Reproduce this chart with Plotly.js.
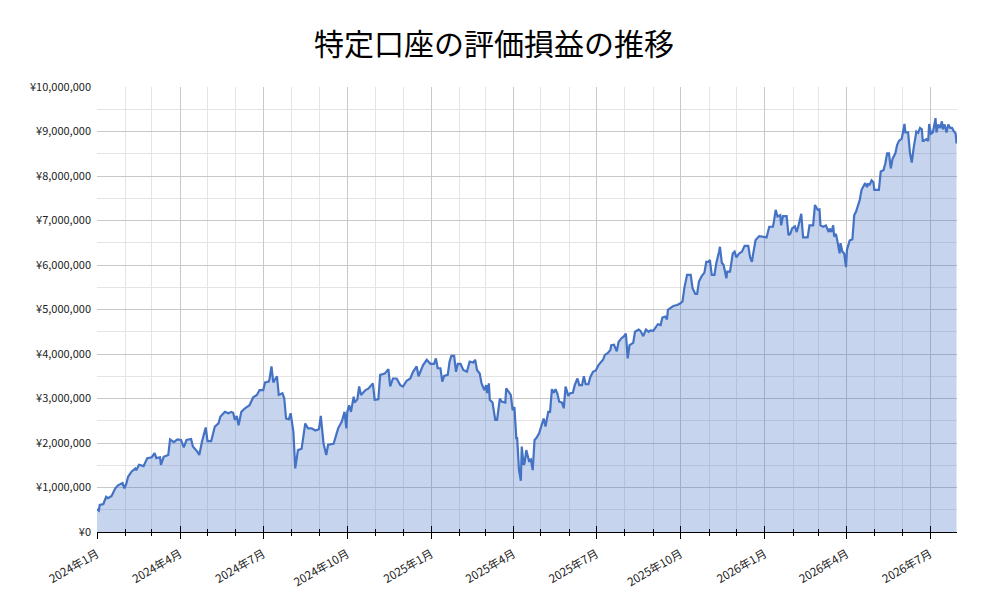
<!DOCTYPE html>
<html>
<head>
<meta charset="utf-8">
<script src="https://cdn.plot.ly/plotly-3.0.1.min.js"></script>
<style>html,body{margin:0;padding:0;background:#fff;}#chart{width:988px;height:611px;}</style>
</head>
<body>
<div id="chart"></div>
<script>
const chartTitle = "特定口座の評価損益の推移";

const dates = [
"2024-01-01","2024-01-03","2024-01-04","2024-01-08","2024-01-11","2024-01-13","2024-01-17","2024-01-21","2024-01-24","2024-01-29",
"2024-01-31","2024-02-02","2024-02-04","2024-02-08","2024-02-12","2024-02-13","2024-02-16","2024-02-21","2024-02-25","2024-03-01",
"2024-03-04","2024-03-06","2024-03-10","2024-03-11","2024-03-14","2024-03-19","2024-03-21","2024-03-25","2024-03-29","2024-04-02",
"2024-04-05","2024-04-08","2024-04-13","2024-04-15","2024-04-20","2024-04-22","2024-04-25","2024-04-29","2024-05-01","2024-05-05",
"2024-05-09","2024-05-13","2024-05-15","2024-05-20","2024-05-24","2024-05-27","2024-05-29","2024-05-31","2024-06-02","2024-06-04",
"2024-06-07","2024-06-11","2024-06-16","2024-06-20","2024-06-24","2024-06-27","2024-07-01","2024-07-03","2024-07-07","2024-07-08",
"2024-07-10","2024-07-12","2024-07-16","2024-07-18","2024-07-22","2024-07-24","2024-07-26","2024-07-29","2024-07-31","2024-08-01",
"2024-08-03","2024-08-05","2024-08-08","2024-08-12","2024-08-16","2024-08-19","2024-08-23","2024-08-27","2024-08-31","2024-09-02",
"2024-09-05","2024-09-08","2024-09-10","2024-09-16","2024-09-21","2024-09-25","2024-09-28","2024-09-30","2024-10-01","2024-10-03",
"2024-10-05","2024-10-08","2024-10-09","2024-10-12","2024-10-14","2024-10-16","2024-10-19","2024-10-21","2024-10-24","2024-10-27",
"2024-10-29","2024-10-31","2024-11-04","2024-11-06","2024-11-11","2024-11-15","2024-11-17","2024-11-20","2024-11-24","2024-11-28",
"2024-12-01","2024-12-05","2024-12-09","2024-12-12","2024-12-16","2024-12-18","2024-12-20","2024-12-23","2024-12-27","2024-12-31",
"2025-01-04","2025-01-06","2025-01-08","2025-01-11","2025-01-13","2025-01-15","2025-01-19","2025-01-21","2025-01-23","2025-01-26",
"2025-01-28","2025-01-30","2025-02-02","2025-02-05","2025-02-09","2025-02-12","2025-02-16","2025-02-18","2025-02-20","2025-02-23",
"2025-02-25","2025-02-28","2025-03-02","2025-03-03","2025-03-05","2025-03-06","2025-03-09","2025-03-12","2025-03-14","2025-03-17",
"2025-03-19","2025-03-23","2025-03-24","2025-03-27","2025-03-29","2025-03-31","2025-04-02","2025-04-04","2025-04-05","2025-04-07",
"2025-04-09","2025-04-10","2025-04-12","2025-04-13","2025-04-15","2025-04-16","2025-04-18","2025-04-20","2025-04-22","2025-04-24",
"2025-04-26","2025-04-29","2025-05-01","2025-05-04","2025-05-06","2025-05-09","2025-05-11","2025-05-13","2025-05-15","2025-05-17",
"2025-05-19","2025-05-21","2025-05-24","2025-05-26","2025-05-28","2025-05-31","2025-06-02","2025-06-05","2025-06-07","2025-06-10",
"2025-06-12","2025-06-15","2025-06-17","2025-06-19","2025-06-22","2025-06-24","2025-06-27","2025-06-30","2025-07-03","2025-07-05",
"2025-07-08","2025-07-10","2025-07-13","2025-07-16","2025-07-17","2025-07-20","2025-07-23","2025-07-25","2025-07-28","2025-07-31",
"2025-08-02","2025-08-04","2025-08-06","2025-08-10","2025-08-12","2025-08-16","2025-08-18","2025-08-21","2025-08-24","2025-08-27",
"2025-08-29","2025-09-01","2025-09-04","2025-09-06","2025-09-09","2025-09-11","2025-09-14","2025-09-16","2025-09-17","2025-09-20",
"2025-09-23","2025-09-27","2025-09-30","2025-10-03","2025-10-05","2025-10-08","2025-10-12","2025-10-14","2025-10-17","2025-10-19",
"2025-10-21","2025-10-24","2025-10-27","2025-10-29","2025-10-31","2025-11-02","2025-11-04","2025-11-07","2025-11-09","2025-11-12",
"2025-11-13","2025-11-15","2025-11-17","2025-11-20","2025-11-21","2025-11-24","2025-11-27","2025-11-29","2025-12-01","2025-12-04",
"2025-12-07","2025-12-10","2025-12-14","2025-12-16","2025-12-18","2025-12-19","2025-12-22","2025-12-26","2025-12-30","2026-01-03",
"2026-01-06","2026-01-10","2026-01-11","2026-01-13","2026-01-15","2026-01-18","2026-01-19","2026-01-21","2026-01-25","2026-01-27",
"2026-01-29","2026-01-31","2026-02-03","2026-02-05","2026-02-07","2026-02-09","2026-02-10","2026-02-12","2026-02-17","2026-02-19",
"2026-02-23","2026-02-25","2026-02-28","2026-03-02","2026-03-03","2026-03-06","2026-03-09","2026-03-12","2026-03-13","2026-03-15",
"2026-03-17","2026-03-18","2026-03-20","2026-03-22","2026-03-24","2026-03-25","2026-03-27","2026-03-29","2026-03-31","2026-04-01",
"2026-04-04","2026-04-07","2026-04-09","2026-04-11","2026-04-13","2026-04-15","2026-04-17","2026-04-19","2026-04-21","2026-04-23",
"2026-04-24","2026-04-26","2026-04-28","2026-04-30","2026-05-01","2026-05-04","2026-05-06","2026-05-08","2026-05-11","2026-05-13",
"2026-05-15","2026-05-17","2026-05-19","2026-05-21","2026-05-24","2026-05-26","2026-05-28","2026-05-31","2026-06-02","2026-06-03",
"2026-06-04","2026-06-07","2026-06-09","2026-06-11","2026-06-13","2026-06-16","2026-06-18","2026-06-20","2026-06-22","2026-06-23",
"2026-06-24","2026-06-27","2026-06-29","2026-06-30","2026-07-02","2026-07-04","2026-07-05","2026-07-07","2026-07-08","2026-07-10",
"2026-07-12","2026-07-14","2026-07-15","2026-07-17","2026-07-19","2026-07-21","2026-07-23","2026-07-25","2026-07-27","2026-07-29",
"2026-07-30"
];

const valuesYen = [
510000,480000,610000,630000,790000,760000,810000,980000,1050000,1100000,
980000,1080000,1240000,1360000,1430000,1390000,1510000,1480000,1660000,1680000,
1770000,1660000,1680000,1510000,1690000,1730000,2080000,2020000,2080000,2070000,
1900000,2070000,2090000,1920000,1800000,1730000,2040000,2350000,2040000,2040000,
2370000,2440000,2590000,2700000,2670000,2700000,2680000,2520000,2610000,2400000,
2700000,2780000,2850000,3030000,3080000,3190000,3190000,3360000,3380000,3450000,
3720000,3360000,3500000,3080000,3120000,3000000,2550000,2530000,2670000,2520000,
2250000,1430000,1840000,1870000,2440000,2330000,2330000,2280000,2310000,2610000,
1990000,1730000,1960000,1980000,2330000,2480000,2700000,2330000,2700000,2850000,
2700000,3040000,2910000,2980000,3270000,3080000,3150000,3190000,3220000,3300000,
3340000,2970000,2980000,3530000,3560000,3660000,3270000,3450000,3450000,3300000,
3270000,3400000,3450000,3600000,3720000,3500000,3600000,3750000,3870000,3780000,
3780000,3900000,3680000,3680000,3380000,3510000,3530000,3830000,3960000,3960000,
3600000,3780000,3780000,3640000,3600000,3830000,3810000,3870000,3640000,3560000,
3340000,3190000,3300000,3120000,3340000,2970000,2910000,2520000,2520000,3000000,
2930000,2910000,3230000,3120000,3080000,2740000,2810000,2110000,2110000,1390000,
1150000,1920000,1510000,1540000,1840000,1750000,1600000,1630000,1390000,2070000,
2110000,2220000,2370000,2550000,2370000,2700000,2700000,3210000,3130000,3210000,
3110000,2930000,2910000,2780000,3270000,3060000,3120000,3130000,3300000,3450000,
3300000,3300000,3500000,3320000,3320000,3480000,3600000,3630000,3750000,3800000,
3870000,3980000,4020000,4090000,4200000,4210000,4060000,4270000,4350000,4400000,
4460000,3900000,4200000,4250000,4500000,4550000,4520000,4400000,4550000,4500000,
4530000,4520000,4630000,4670000,4650000,4820000,4840000,4780000,4990000,5030000,
5080000,5100000,5130000,5180000,5480000,5780000,5780000,5480000,5350000,5350000,
5630000,5750000,5830000,6070000,6070000,6110000,5780000,5780000,6040000,6300000,
6410000,6050000,6000000,5700000,5850000,5850000,6260000,6300000,6170000,6260000,
6300000,6430000,6430000,6170000,6070000,6210000,6560000,6650000,6630000,6620000,
6860000,6860000,6970000,7240000,7090000,7120000,6890000,7100000,7100000,6670000,
6700000,6820000,6870000,6740000,6890000,7090000,7150000,6620000,6620000,6890000,
6890000,7350000,7240000,7250000,6890000,6860000,6890000,6740000,6820000,6740000,
6890000,6640000,6700000,6490000,6260000,6490000,6300000,6260000,5950000,6340000,
6550000,6580000,7120000,7200000,7310000,7460000,7690000,7770000,7840000,7750000,
7820000,7810000,7900000,7860000,7690000,7690000,7690000,8100000,8130000,8280000,
8510000,8510000,8170000,8390000,8510000,8700000,8790000,8840000,9020000,9170000,
8980000,8980000,8520000,8300000,8620000,9000000,8970000,9080000,9050000,8790000,
8790000,8830000,8790000,9170000,8950000,8980000,9080000,9300000,8980000,9160000,
9080000,9230000,9050000,9160000,8980000,9160000,9080000,9080000,9010000,8950000,
8730000
];

const xStart = "2024-01-01";
const xEnd = "2026-07-30 12:00";
const yMax = 10000000;

const font = '"Noto Sans CJK JP", "Noto Sans", sans-serif';

const traces = [
  {
    type: "scatter",
    mode: "lines",
    x: dates,
    y: valuesYen,
    fill: "tozeroy",
    fillcolor: "rgba(68,114,196,0.30)",
    line: {color: "#4472C4", width: 2.2},
    hoverinfo: "x+y",
    showlegend: false
  },
  {
    type: "scatter",
    mode: "none",
    x: dates,
    y: valuesYen,
    xaxis: "x2",
    hoverinfo: "skip",
    showlegend: false
  }
];

const layout = {
  width: 988,
  height: 611,
  paper_bgcolor: "#ffffff",
  plot_bgcolor: "#ffffff",
  margin: {l: 97, r: 31, t: 87, b: 79},
  title: {
    text: chartTitle,
    x: 0.5, xanchor: "center",
    y: 0.927, yanchor: "middle",
    font: {family: font, size: 30, color: "#000000"}
  },
  xaxis: {
    type: "date",
    range: [xStart, xEnd],
    tick0: xStart,
    dtick: "M3",
    tickformat: "%Y年%-m月",
    tickangle: -30,
    ticks: "outside",
    ticklen: 6,
    tickwidth: 1,
    tickcolor: "#000000",
    ticklabelstandoff: 4,
    showline: true,
    linecolor: "#000000",
    linewidth: 1,
    showgrid: true,
    gridcolor: "#c8c8c8",
    gridwidth: 1,
    zeroline: false,
    tickfont: {family: font, size: 11.5, color: "#222222"},
    minor: {
      dtick: "M1",
      tick0: xStart,
      ticks: "outside",
      ticklen: 3,
      tickcolor: "#000000",
      showgrid: true,
      gridcolor: "#e4e4e4",
      gridwidth: 1
    }
  },
  xaxis2: {
    type: "date",
    overlaying: "x",
    matches: "x",
    anchor: "y",
    side: "bottom",
    range: [xStart, xEnd],
    tick0: xStart,
    dtick: "M3",
    ticks: "inside",
    ticklen: 6,
    tickwidth: 1,
    tickcolor: "#000000",
    showticklabels: false,
    showgrid: false,
    showline: false,
    zeroline: false,
    minor: {
      dtick: "M1",
      tick0: xStart,
      ticks: "inside",
      ticklen: 3,
      tickcolor: "#000000",
      showgrid: false
    }
  },
  yaxis: {
    range: [0, yMax],
    dtick: 1000000,
    tick0: 0,
    tickprefix: "¥",
    tickformat: ",d",
    ticks: "",
    ticklabelstandoff: 5,
    showline: false,
    zeroline: false,
    showgrid: true,
    gridcolor: "#c8c8c8",
    gridwidth: 1,
    tickfont: {family: font, size: 11, color: "#222222"},
    minor: {
      dtick: 500000,
      showgrid: true,
      gridcolor: "#e4e4e4",
      gridwidth: 1
    }
  },
  hovermode: "closest"
};

Plotly.newPlot("chart", traces, layout, {displayModeBar: false, staticPlot: true});
</script>
</body>
</html>
